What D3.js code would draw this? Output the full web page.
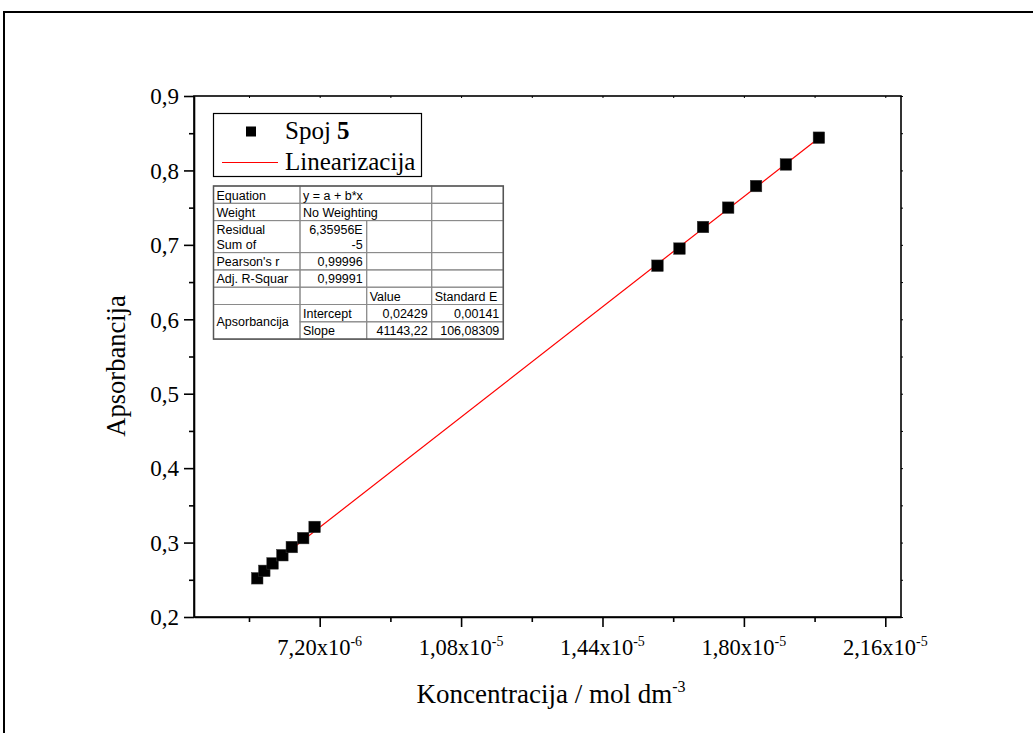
<!DOCTYPE html>
<html>
<head>
<meta charset="utf-8">
<script src="https://cdn.jsdelivr.net/npm/d3@7"></script>
<style>
  html, body { margin: 0; padding: 0; background: #fff; }
  svg { display: block; }
</style>
</head>
<body>
<svg id="chart" width="1033" height="733"></svg>
<script>
// ---------------- data ----------------
const concentration = [5.61e-6, 5.79e-6, 6.00e-6, 6.25e-6, 6.49e-6, 6.78e-6, 7.07e-6,
                       1.580e-5, 1.636e-5, 1.696e-5, 1.760e-5, 1.831e-5, 1.907e-5, 1.991e-5];
const absorbance    = [0.252, 0.262, 0.272, 0.283, 0.294, 0.306, 0.321,
                       0.672, 0.695, 0.724, 0.750, 0.779, 0.808, 0.844];
const fitIntercept = 0.02429;
const fitSlope = 41143.22;

const xTickValues   = [7.2e-6, 1.08e-5, 1.44e-5, 1.80e-5, 2.16e-5];
const xTickMantissa = ["7,20", "1,08", "1,44", "1,80", "2,16"];
const xTickExponent = ["-6", "-5", "-5", "-5", "-5"];
const xMinorTicks   = [5.4e-6, 9.0e-6, 1.26e-5, 1.62e-5, 1.98e-5];
const yTickValues   = [0.2, 0.3, 0.4, 0.5, 0.6, 0.7, 0.8, 0.9];
const yTickLabels   = ["0,2", "0,3", "0,4", "0,5", "0,6", "0,7", "0,8", "0,9"];
const yMinorTicks   = [0.25, 0.35, 0.45, 0.55, 0.65, 0.75, 0.85];

const legendLabels = ["Spoj ", "5", "Linearizacija"];
const xTitle = "Koncentracija / mol dm";
const xTitleSup = "-3";
const yTitle = "Apsorbancija";

// fit-report table: rows of cells [text, col, colspan, align]
const tableRows = [
  [["Equation", 0, 1, "l"], ["y = a + b*x", 1, 2, "l"], ["", 3, 1, "l"]],
  [["Weight", 0, 1, "l"], ["No Weighting", 1, 2, "l"], ["", 3, 1, "l"]],
  [["Residual\nSum of", 0, 1, "l"], ["6,35956E\n-5", 1, 1, "r"], ["", 2, 1, "l"], ["", 3, 1, "l"]],
  [["Pearson's r", 0, 1, "l"], ["0,99996", 1, 1, "r"], ["", 2, 1, "l"], ["", 3, 1, "l"]],
  [["Adj. R-Squar", 0, 1, "l"], ["0,99991", 1, 1, "r"], ["", 2, 1, "l"], ["", 3, 1, "l"]],
  [["", 0, 1, "l"], ["", 1, 1, "l"], ["Value", 2, 1, "l"], ["Standard E", 3, 1, "l"]],
  [["Intercept", 1, 1, "l"], ["0,02429", 2, 1, "r"], ["0,00141", 3, 1, "r"]],
  [["Slope", 1, 1, "l"], ["41143,22", 2, 1, "r"], ["106,08309", 3, 1, "r"]]
];
const tableMerged = "Apsorbancija";

// ---------------- layout ----------------
const svg = d3.select("#chart");
const plot = { left: 194, right: 901, top: 96, bottom: 617 };
const serif = "'Liberation Serif', 'Times New Roman', serif";
const sans = "'Liberation Sans', Arial, sans-serif";

const x = d3.scaleLinear().domain([4.0e-6, 2.2e-5]).range([plot.left, plot.right]);
const y = d3.scaleLinear().domain([0.2, 0.9]).range([plot.bottom, plot.top]);

// outer frame
svg.append("rect").attr("x", 4).attr("y", 12).attr("width", 1100).attr("height", 1000)
  .attr("fill", "none").attr("stroke", "#000").attr("stroke-width", 2);

// plot box
svg.append("rect").attr("x", plot.left).attr("y", plot.top)
  .attr("width", plot.right - plot.left).attr("height", plot.bottom - plot.top)
  .attr("fill", "none").attr("stroke", "#000").attr("stroke-width", 1.6);

// bottom axis
const gx = svg.append("g").attr("transform", `translate(0,${plot.bottom})`)
  .call(d3.axisBottom(x).tickValues(xTickValues).tickSize(10).tickSizeOuter(0).tickFormat(""));
gx.select(".domain").attr("stroke-width", 1.6);
gx.selectAll(".tick line").attr("stroke-width", 1.6);
const gxm = svg.append("g").attr("transform", `translate(0,${plot.bottom})`)
  .call(d3.axisBottom(x).tickValues(xMinorTicks).tickSize(5).tickSizeOuter(0).tickFormat(""));
gxm.select(".domain").remove();
gxm.selectAll(".tick line").attr("stroke-width", 1.6);

// x tick labels with superscript exponent
const xl = svg.append("g");
xTickValues.forEach((v, i) => {
  const t = xl.append("text").attr("x", x(v)).attr("y", 655)
    .attr("text-anchor", "middle").attr("font-family", serif).attr("font-size", 22.5);
  t.append("tspan").text(xTickMantissa[i] + "x10");
  t.append("tspan").attr("font-size", 14).attr("dy", -9).text(xTickExponent[i]);
});

// left axis
const gy = svg.append("g").attr("transform", `translate(${plot.left},0)`)
  .call(d3.axisLeft(y).tickValues(yTickValues).tickSize(10).tickSizeOuter(0)
    .tickFormat((d, i) => yTickLabels[i]));
gy.select(".domain").attr("stroke-width", 1.6);
gy.selectAll(".tick line").attr("stroke-width", 1.6);
gy.selectAll(".tick text").attr("font-family", serif).attr("font-size", 23)
  .attr("fill", "#000").attr("x", -15).attr("dy", "0.34em");
const gym = svg.append("g").attr("transform", `translate(${plot.left},0)`)
  .call(d3.axisLeft(y).tickValues(yMinorTicks).tickSize(5).tickSizeOuter(0).tickFormat(""));
gym.select(".domain").remove();
gym.selectAll(".tick line").attr("stroke-width", 1.6);

// tiny ticks on top / right
const gt = svg.append("g").attr("transform", `translate(0,${plot.top})`)
  .call(d3.axisTop(x).tickValues(xTickValues.concat(xMinorTicks)).tickSize(-2).tickSizeOuter(0).tickFormat(""));
gt.select(".domain").remove();
const gr = svg.append("g").attr("transform", `translate(${plot.right},0)`)
  .call(d3.axisRight(y).tickValues(yTickValues.concat(yMinorTicks)).tickSize(2).tickSizeOuter(0).tickFormat(""));
gr.select(".domain").remove();

// axis titles
const xt = svg.append("text").attr("x", 551).attr("y", 703).attr("text-anchor", "middle")
  .attr("font-family", serif).attr("font-size", 27);
xt.append("tspan").text(xTitle);
xt.append("tspan").attr("font-size", 16).attr("dy", -11).text(xTitleSup);

svg.append("text").attr("transform", "translate(125,366) rotate(-90)")
  .attr("text-anchor", "middle").attr("font-family", serif).attr("font-size", 26.5)
  .text(yTitle);

// fit line
const xFit = d3.extent(concentration);
svg.append("line")
  .attr("x1", x(xFit[0])).attr("y1", y(fitIntercept + fitSlope * xFit[0]))
  .attr("x2", x(xFit[1])).attr("y2", y(fitIntercept + fitSlope * xFit[1]))
  .attr("stroke", "#ff0000").attr("stroke-width", 1.2);

// points
const sz = 11.5;
svg.append("g").selectAll("rect").data(concentration).join("rect")
  .attr("x", (d) => x(d) - sz / 2)
  .attr("y", (d, i) => y(absorbance[i]) - sz / 2)
  .attr("width", sz).attr("height", sz)
  .attr("fill", "#000").attr("stroke", "#333").attr("stroke-width", 0.5);

// legend
const lg = svg.append("g");
lg.append("rect").attr("x", 213.5).attr("y", 113.5).attr("width", 208).attr("height", 63)
  .attr("fill", "#fff").attr("stroke", "#000").attr("stroke-width", 1.2);
lg.append("rect").attr("x", 246).attr("y", 126.5).attr("width", 10).attr("height", 10).attr("fill", "#000");
const l1 = lg.append("text").attr("x", 285).attr("y", 139).attr("font-family", serif).attr("font-size", 25);
l1.append("tspan").text(legendLabels[0]);
l1.append("tspan").attr("font-weight", "bold").text(legendLabels[1]);
lg.append("line").attr("x1", 222).attr("x2", 278).attr("y1", 162.5).attr("y2", 162.5)
  .attr("stroke", "#ff0000").attr("stroke-width", 1.2);
lg.append("text").attr("x", 285).attr("y", 170).attr("font-family", serif).attr("font-size", 25)
  .text(legendLabels[2]);

// table
const colX = [213.5, 300, 366.7, 431.7, 503.3];
const rowH = [17.3, 17.3, 32, 17.3, 17.3, 17.3, 17.3, 17.3];
const rowY = [186];
rowH.forEach((h, i) => rowY.push(rowY[i] + h));
const tg = svg.append("g");
tg.append("rect").attr("x", colX[0]).attr("y", rowY[0])
  .attr("width", colX[4] - colX[0]).attr("height", rowY[8] - rowY[0])
  .attr("fill", "#fff");
tableRows.forEach((row, r) => {
  row.forEach(([txt, c, span, align]) => {
    const x0 = colX[c], x1 = colX[c + span];
    tg.append("rect").attr("x", x0).attr("y", rowY[r]).attr("width", x1 - x0)
      .attr("height", rowY[r + 1] - rowY[r]).attr("fill", "none")
      .attr("stroke", "#8a8a8a").attr("stroke-width", 1);
    const lines = txt.split("\n");
    lines.forEach((ln, k) => {
      tg.append("text").attr("x", align === "r" ? x1 - 4 : x0 + 3)
        .attr("y", rowY[r] + 13.5 + k * 15)
        .attr("text-anchor", align === "r" ? "end" : "start")
        .attr("font-family", sans).attr("font-size", 12.5).attr("fill", "#000")
        .text(ln);
    });
  });
});
// merged cell
tg.append("rect").attr("x", colX[0]).attr("y", rowY[6]).attr("width", colX[1] - colX[0])
  .attr("height", rowY[8] - rowY[6]).attr("fill", "none").attr("stroke", "#8a8a8a");
tg.append("text").attr("x", colX[0] + 3).attr("y", (rowY[6] + rowY[8]) / 2 + 4.5)
  .attr("font-family", sans).attr("font-size", 12.5).text(tableMerged);
tg.append("rect").attr("x", colX[0]).attr("y", rowY[0])
  .attr("width", colX[4] - colX[0]).attr("height", rowY[8] - rowY[0])
  .attr("fill", "none").attr("stroke", "#555").attr("stroke-width", 1.5);
</script>
</body>
</html>
